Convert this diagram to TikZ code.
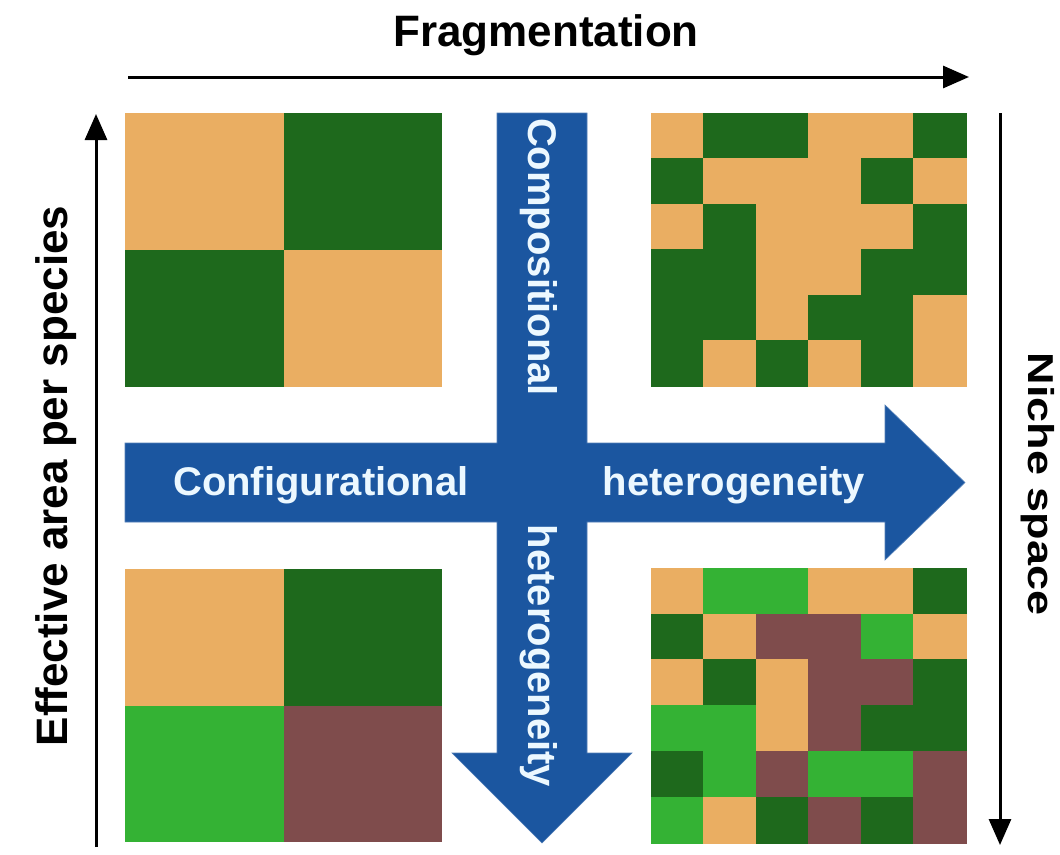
\documentclass[tikz,border=0pt]{standalone}
\usepackage{fontspec}
\setmainfont{Liberation Sans}
\usetikzlibrary{arrows.meta}
\definecolor{cT}{RGB}{234,174,98}
\definecolor{cD}{RGB}{30,105,28}
\definecolor{cL}{RGB}{52,178,52}
\definecolor{cB}{RGB}{127,76,76}
\definecolor{arrowblue}{RGB}{27,86,160}
\definecolor{paletext}{RGB}{236,248,255}
\tikzset{
  axislbl/.style={font=\fontsize{44}{50}\selectfont\bfseries, text=black, inner sep=0pt},
  nichelbl/.style={font=\fontsize{36}{42}\selectfont\bfseries, text=black, inner sep=0pt},
  bluelbl/.style={font=\fontsize{40}{46}\selectfont\bfseries, text=paletext, inner sep=0pt},
  axisarrow/.style={line width=3pt, -{Triangle[length=26pt,width=22pt]}},
  bluearrow/.style={fill=arrowblue, draw=arrowblue!75!white, line width=0.6pt, line join=miter},
  cellbox/.style={line width=0.6pt}
}
\begin{document}
\begin{tikzpicture}[x=1pt,y=-1pt]
\fill[white] (0,0) rectangle (1060,854);
\useasboundingbox (0,0) rectangle (1060,854);

% ---- top-left grid (2x2)
\fill[cT] (125,113) rectangle (284,250);
\fill[cD] (283.5,113) rectangle (442,250);
\fill[cD] (125,249.5) rectangle (284,387);
\fill[cT] (283.5,249.5) rectangle (442,387);

% ---- bottom-left grid (2x2)
\fill[cT] (125,569) rectangle (284,706);
\fill[cD] (283.5,569) rectangle (442,706);
\fill[cL] (125,705.5) rectangle (284,842);
\fill[cB] (283.5,705.5) rectangle (442,842);

% ---- top-right grid (6x6)
\foreach \row [count=\r] in {{T,D,D,T,T,D},{D,T,T,T,D,T},{T,D,T,T,T,D},{D,D,T,T,D,D},{D,D,T,D,D,T},{D,T,D,T,D,T}}{
  \foreach \c [count=\k] in \row {
    \path[cellbox, fill=c\c, draw=c\c] ({651+(\k-1)*52.5},{113+(\r-1)*45.5}) rectangle ++(52.5,45.5);
  }
}

% ---- bottom-right grid (6x6)
\foreach \row [count=\r] in {{T,L,L,T,T,D},{D,T,B,B,L,T},{T,D,T,B,B,D},{L,L,T,B,D,D},{D,L,B,L,L,B},{L,T,D,B,D,B}}{
  \foreach \c [count=\k] in \row {
    \path[cellbox, fill=c\c, draw=c\c] ({651+(\k-1)*52.5},{568+(\r-1)*45.83}) rectangle ++(52.5,45.83);
  }
}

% ---- blue crossing arrows (one outline)
\path[bluearrow] (497,113) -- (587,113) -- (587,443) -- (885,443) -- (885,405)
  -- (965,482.5) -- (885,560) -- (885,522) -- (587,522) -- (587,753) -- (632,753)
  -- (542,843) -- (452,753) -- (497,753) -- (497,522) -- (125,522) -- (125,443)
  -- (497,443) -- cycle;

% ---- blue labels
\node[bluelbl, anchor=base] (conf) at (321,495) {Configurational};
\node[bluelbl, anchor=base] (hethor) at (734,495) {heterogeneity};
\node[bluelbl, rotate=-90, anchor=base] (comp) at (528,257) {Compositional};
\node[bluelbl, rotate=-90, anchor=base] (hetver) at (528,656) {heterogeneity};

% ---- axes
\coordinate (fragL) at (128,77);
\coordinate (fragR) at (969,77);
\draw[axisarrow] (fragL) -- (fragR);
\node[axislbl, anchor=base] (frag) at (546,46) {Fragmentation};

\coordinate (effB) at (96,847);
\coordinate (effT) at (96,114);
\draw[axisarrow] (effB) -- (effT);
\node[axislbl, rotate=90, anchor=base] (eff) at (67,476) {Effective area per species};

\coordinate (nicheT) at (1000,113);
\coordinate (nicheB) at (1000,845);
\draw[axisarrow] (nicheT) -- (nicheB);
\node[nichelbl, rotate=-90, anchor=base] (niche) at (1028,484) {\scalebox{1.25}[1]{Niche space}};
\end{tikzpicture}
\end{document}
